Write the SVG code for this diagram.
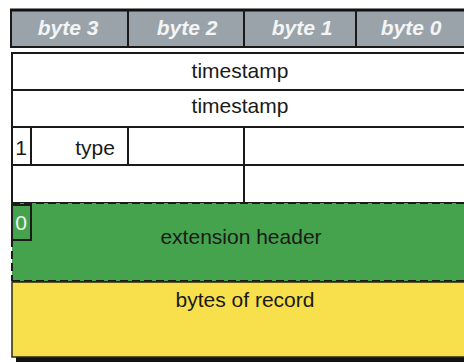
<svg xmlns="http://www.w3.org/2000/svg" width="464" height="363" viewBox="0 0 464 363">
<style>
  .t{font-family:"Liberation Sans",Arial,sans-serif;font-size:21px;fill:#1a1a1a;text-anchor:middle}
  .h{font-family:"Liberation Sans",Arial,sans-serif;font-size:21px;font-weight:bold;font-style:italic;fill:#f4f4f4;text-anchor:middle}
  .ln{stroke:#1a1a1a;stroke-width:2}
  .cell{stroke:#1a1a1a;stroke-width:2;fill:#ffffff}
  .dash{stroke:#1a1a1a;stroke-width:2;stroke-dasharray:8,4;fill:none}
</style>
<rect width="464" height="363" fill="#ffffff"/>
<g id="header">
  <rect x="11" y="10" width="460" height="37" fill="#9aa3aa" stroke="#1a1a1a" stroke-width="2"/>
  <line x1="10" y1="10" x2="464" y2="10" stroke="#111" stroke-width="3"/>
  <line x1="128" y1="10" x2="128" y2="47" class="ln"/>
  <line x1="244" y1="10" x2="244" y2="47" class="ln"/>
  <line x1="356" y1="10" x2="356" y2="47" class="ln"/>
  <text class="h" x="68" y="35">byte 3</text>
  <text class="h" x="187" y="35">byte 2</text>
  <text class="h" x="302" y="35">byte 1</text>
  <text class="h" x="411" y="35">byte 0</text>
</g>
<g id="shadow">
  <rect x="16" y="57" width="460" height="305" fill="#111"/>
</g>
<g id="timestamp1">
  <rect x="12" y="53" width="460" height="37" class="cell"/>
  <text class="t" x="240" y="78">timestamp</text>
</g>
<g id="timestamp2">
  <rect x="12" y="90" width="460" height="37" class="cell"/>
  <text class="t" x="240" y="113">timestamp</text>
</g>
<g id="row3">
  <rect x="12" y="127" width="460" height="38" class="cell"/>
  <line x1="31" y1="127" x2="31" y2="165" class="ln"/>
  <line x1="128" y1="127" x2="128" y2="165" class="ln"/>
  <line x1="244" y1="127" x2="244" y2="165" class="ln"/>
  <text class="t" x="21" y="155">1</text>
  <text class="t" x="95" y="155">type</text>
</g>
<g id="row4">
  <rect x="12" y="165" width="460" height="38" class="cell"/>
  <line x1="244" y1="165" x2="244" y2="203" class="ln"/>
</g>
<g id="extension">
  <rect x="12" y="203" width="460" height="78" fill="#45a34e"/>
  <line x1="12" y1="203" x2="472" y2="203" class="dash"/>
  <line x1="12" y1="281" x2="472" y2="281" class="dash"/>
  <line x1="12" y1="203" x2="12" y2="281" class="dash"/>
  <rect x="12" y="205" width="19" height="35" fill="#45a34e" class="ln"/>
  <text x="21" y="230" style="font-family:'Liberation Sans',Arial,sans-serif;font-size:21px;fill:#eef5ee;text-anchor:middle">0</text>
  <text class="t" x="241" y="244">extension header</text>
</g>
<g id="record">
  <rect x="12" y="282" width="460" height="75" fill="#f7e04b" stroke="#2a2a1a" stroke-width="1.5"/>
  <text class="t" x="245" y="307">bytes of record</text>
</g>
<g id="connectors"/>
</svg>
